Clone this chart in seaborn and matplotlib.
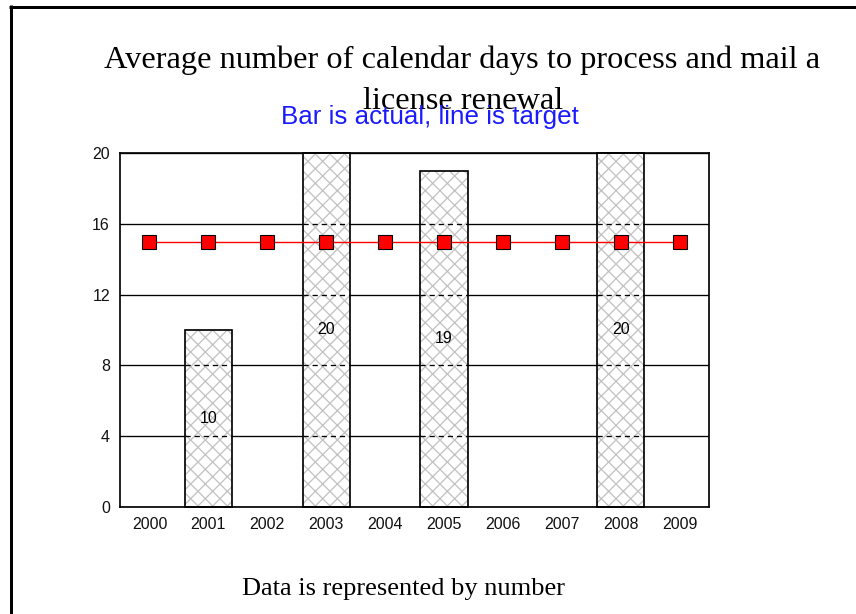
import numpy as np
import pandas as pd
import matplotlib
matplotlib.use("Agg")
import matplotlib.pyplot as plt
import seaborn as sns
from matplotlib.patches import Rectangle
from matplotlib.lines import Line2D

# ---- data ----
years = ["2000", "2001", "2002", "2003", "2004", "2005", "2006", "2007", "2008", "2009"]
actual = [np.nan, 10, np.nan, 20, np.nan, 19, np.nan, np.nan, 20, np.nan]
target = [15, 15, 15, 15, 15, 15, 15, 15, 15, 15]
yticks = [0, 4, 8, 12, 16, 20]

title_line1 = "Average number of calendar days to process and mail a"
title_line2 = "license renewal"
subtitle = "Bar is actual, line is target"
footer = "Data is represented by number"

sns.set_theme(style="white")
plt.rcParams["font.family"] = ["Liberation Sans", "DejaVu Sans"]
plt.rcParams["hatch.linewidth"] = 1.1

DPI = 88
W, H = 856, 614
PT = 72 / DPI  # px -> pt

fig = plt.figure(figsize=(W / DPI, H / DPI), dpi=DPI)
fig.patch.set_facecolor("white")
ax = fig.add_axes([120 / W, 1 - 507 / H, (709 - 120) / W, (507 - 153) / H])

df = pd.DataFrame({"year": years, "actual": actual, "target": target})
bars_df = df.dropna(subset=["actual"])

ax.set_axisbelow(True)
ax.yaxis.grid(True, color="black", linewidth=1.2 * PT / 0.9)
ax.xaxis.grid(False)

sns.barplot(data=bars_df, x="year", y="actual", order=years, color="white",
            width=0.8, edgecolor="#c4c4c4", linewidth=0, hatch="xx",
            errorbar=None, ax=ax)
bar_patches = [p for p in ax.patches]

for p in bar_patches:
    h = p.get_height()
    x0, w = p.get_x(), p.get_width()
    # dashed gridlines inside the bars
    for t in yticks:
        if 0 < t < h:
            ax.hlines(t, x0, x0 + w, colors="black", linestyles=(0, (4, 3)),
                      linewidth=1.3 * PT, zorder=3)
    ax.add_patch(Rectangle((x0, 0), w, h, fill=False, edgecolor="black",
                           linewidth=1.7 * PT, zorder=3, clip_on=False))
    ax.text(x0 + w / 2, h / 2, f"{int(h)}", ha="center", va="center",
            fontsize=16 * PT, color="black", zorder=4)

sns.pointplot(data=df, x="year", y="target", order=years, color="red",
              markers="s", markersize=14.5 * PT, linewidth=1.4 * PT,
              errorbar=None, markeredgecolor="black",
              markeredgewidth=1.1 * PT, ax=ax)
for c in ax.lines:
    c.set_zorder(5)

ax.set_xlim(-0.5, len(years) - 0.5)
ax.set_ylim(0, 20)
ax.set_yticks(yticks)
ax.set_yticklabels([str(t) for t in yticks])
ax.set_xlabel("")
ax.set_ylabel("")
ax.tick_params(axis="both", length=0, labelsize=16 * PT, colors="#111111")
ax.tick_params(axis="x", pad=10 * PT)
ax.tick_params(axis="y", pad=10 * PT)
for s in ax.spines.values():
    s.set_visible(True)
    s.set_color("black")
    s.set_linewidth(1.7 * PT)
    s.set_zorder(6)

serif = ["Liberation Serif", "DejaVu Serif"]
fig.text(462 / W, 1 - 68 / H, title_line1, ha="center", va="baseline",
         family=serif, fontsize=32.4 * PT, color="black")
fig.text(463 / W, 1 - 109 / H, title_line2, ha="center", va="baseline",
         family=serif, fontsize=32.4 * PT, color="black")
fig.text(430 / W, 1 - 124 / H, subtitle, ha="center", va="baseline",
         fontsize=26 * PT, color="#1a1aff")
fig.text(403 / W, 1 - 595 / H, footer, ha="center", va="baseline",
         family=serif, fontsize=26.4 * PT, color="black")

# frame of the original picture (left and top edges)
fig.add_artist(Line2D([10.5 / W, 10.5 / W], [0, 1 - 5 / H], color="black",
                      linewidth=3 * PT, transform=fig.transFigure,
                      solid_capstyle="butt"))
fig.add_artist(Line2D([9 / W, 1], [1 - 6.5 / H, 1 - 6.5 / H], color="black",
                      linewidth=3 * PT, transform=fig.transFigure,
                      solid_capstyle="butt"))

fig.savefig("out.png", dpi=DPI)
